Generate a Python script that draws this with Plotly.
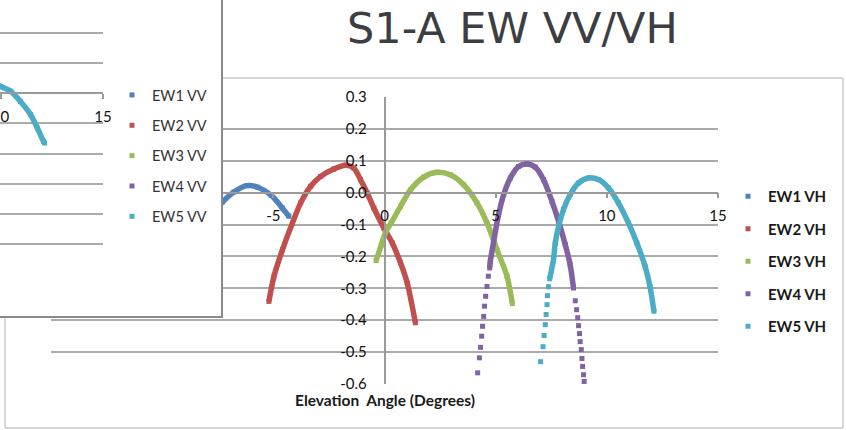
import plotly.graph_objects as go

W, H = 846, 430

TITLE = "S1-A EW VV/VH"
X_TITLE = "Elevation  Angle (Degrees)"

VH_NAMES = ["EW1 VH", "EW2 VH", "EW3 VH", "EW4 VH", "EW5 VH"]
VV_NAMES = ["EW1 VV", "EW2 VV", "EW3 VV", "EW4 VV", "EW5 VV"]
COLORS = ["#4F81BD", "#C0504D", "#9BBB59", "#8064A2", "#4BACC6"]

X_TICKS = [-5, 0, 5, 10, 15]
X_TICK_LABELS = ["-5", "0", "5", "10", "15"]
Y_TICKS = [0.3, 0.2, 0.1, 0.0, -0.1, -0.2, -0.3, -0.4, -0.5, -0.6]
Y_TICK_LABELS = ["0.3", "0.2", "0.1", "0.0", "-0.1", "-0.2", "-0.3", "-0.4", "-0.5", "-0.6"]
VV_X_TICKS = [10, 15]
VV_X_TICK_LABELS = ["10", "15"]

# ---- VH chart (continuous part of each curve) ----
EW1_VH_X = [-7.5, -7.30, -6.77, -6.20, -5.70, -5.10, -4.60, -4.30]
EW1_VH_Y = [-0.045, -0.030, 0.002, 0.022, 0.017, -0.008, -0.048, -0.074]

EW2_VH_X = [-5.20, -4.97, -4.59, -4.14, -3.77, -3.32, -2.87, -2.28, -1.75, -1.38,
            -1.08, -0.78, -0.48, -0.03, 0.35, 0.72, 1.02, 1.39]
EW2_VH_Y = [-0.341, -0.262, -0.179, -0.095, -0.032, 0.020, 0.051, 0.074, 0.086, 0.077,
            0.041, -0.001, -0.048, -0.111, -0.158, -0.220, -0.283, -0.408]

EW3_VH_X = [-0.38, -0.15, 0.04, 0.30, 0.72, 1.17, 1.76, 2.37, 2.96, 3.56,
            4.16, 4.61, 5.06, 5.51, 5.75]
EW3_VH_Y = [-0.213, -0.165, -0.125, -0.095, -0.043, 0.009, 0.049, 0.064, 0.056, 0.025,
            -0.032, -0.095, -0.179, -0.262, -0.348]

EW4_VH_X = [4.73, 4.76, 4.91, 5.13, 5.36, 5.66, 6.03, 6.41, 6.78, 7.15,
            7.53, 7.83, 8.13, 8.35, 8.50]
EW4_VH_Y = [-0.236, -0.215, -0.153, -0.069, -0.006, 0.046, 0.082, 0.090, 0.080, 0.041,
            -0.027, -0.090, -0.163, -0.226, -0.299]

EW5_VH_X = [7.43, 7.60, 7.68, 7.83, 8.05, 8.35, 8.72, 9.17, 9.62, 10.07,
            10.52, 10.97, 11.35, 11.72, 11.94, 12.12]
EW5_VH_Y = [-0.270, -0.210, -0.158, -0.106, -0.053, -0.006, 0.030, 0.046, 0.041, 0.015,
            -0.032, -0.095, -0.158, -0.231, -0.294, -0.372]

# ---- VH chart: sparse (separately visible) points at the curve tails ----
EW1_VH_TAIL_X, EW1_VH_TAIL_Y = [], []
EW2_VH_TAIL_X, EW2_VH_TAIL_Y = [], []
EW3_VH_TAIL_X, EW3_VH_TAIL_Y = [], []
EW4_VH_TAIL_X = [4.19, 4.27, 4.32, 4.37, 4.41, 4.46, 4.50, 4.55, 4.61, 4.67,
                 8.58, 8.64, 8.69, 8.73, 8.77, 8.80, 8.85, 8.88, 8.91, 8.95, 8.98]
EW4_VH_TAIL_Y = [-0.565, -0.518, -0.485, -0.450, -0.419, -0.388, -0.356, -0.325, -0.294, -0.262,
                 -0.339, -0.367, -0.392, -0.417, -0.442, -0.467, -0.492, -0.520, -0.545, -0.571, -0.592]
EW5_VH_TAIL_X = [7.02, 7.13, 7.18, 7.23, 7.27, 7.31, 7.33, 7.38]
EW5_VH_TAIL_Y = [-0.530, -0.483, -0.448, -0.414, -0.382, -0.351, -0.323, -0.295]

# ---- VV chart (only EW5 VV visible in the cropped inset) ----
EW1_VV_X, EW1_VV_Y = [], []
EW2_VV_X, EW2_VV_Y = [], []
EW3_VV_X, EW3_VV_Y = [], []
EW4_VV_X, EW4_VV_Y = [], []
EW5_VV_X = [9.80, 10.00, 10.49, 10.97, 11.46, 11.80, 12.09, 12.15]
EW5_VV_Y = [0.030, 0.023, 0.007, -0.027, -0.070, -0.116, -0.159, -0.165]

VH_SOLID = [(EW1_VH_X, EW1_VH_Y), (EW2_VH_X, EW2_VH_Y), (EW3_VH_X, EW3_VH_Y),
            (EW4_VH_X, EW4_VH_Y), (EW5_VH_X, EW5_VH_Y)]
VH_TAILS = [(EW1_VH_TAIL_X, EW1_VH_TAIL_Y), (EW2_VH_TAIL_X, EW2_VH_TAIL_Y),
            (EW3_VH_TAIL_X, EW3_VH_TAIL_Y), (EW4_VH_TAIL_X, EW4_VH_TAIL_Y),
            (EW5_VH_TAIL_X, EW5_VH_TAIL_Y)]
VV_DATA = [(EW1_VV_X, EW1_VV_Y), (EW2_VV_X, EW2_VV_Y), (EW3_VV_X, EW3_VV_Y),
           (EW4_VV_X, EW4_VV_Y), (EW5_VV_X, EW5_VV_Y)]


def fx(p):
    return p / W


def fy(p):
    return 1 - p / H


GRID = "#ababab"
AXIS = "#9a9a9a"
TICK_FONT = dict(family="Lato, Carlito, sans-serif", size=15, color="#111111")
LINE_W = 5.5
MARK_S = 5

fig = go.Figure()


def add_series(x, y, tx, ty, color, name, group, legend, xa, ya):
    fig.add_trace(go.Scatter(
        x=x, y=y, mode="lines",
        line=dict(color=color, width=LINE_W, shape="spline", smoothing=0.8),
        legendgroup=group, showlegend=False, hoverinfo="skip", xaxis=xa, yaxis=ya))
    mx = list(x) + list(tx)
    my = list(y) + list(ty)
    if not mx:
        mx, my = [None], [None]
    fig.add_trace(go.Scatter(
        x=mx, y=my, mode="markers",
        marker=dict(color=color, size=MARK_S, symbol="square", line=dict(width=0)),
        name=name, legendgroup=group, legend=legend, hoverinfo="skip", xaxis=xa, yaxis=ya))


# VH traces (main subplot xy)
for i in range(5):
    sx, sy = VH_SOLID[i]
    tx, ty = VH_TAILS[i]
    add_series(sx, sy, tx, ty, COLORS[i], VH_NAMES[i], "vh%d" % i, "legend", "x", "y")

# occluding white box of the VV chart (subplot x2y2)
fig.add_trace(go.Scatter(x=[None], y=[None], mode="markers", showlegend=False,
                         hoverinfo="skip", xaxis="x2", yaxis="y2"))

# VV traces (subplot x3y3)
for i in range(5):
    vx, vy = VV_DATA[i]
    add_series(vx, vy, [], [], COLORS[i], VV_NAMES[i], "vv%d" % i, "legend2", "x3", "y3")

x_left, x_right = 51, 718
y_top, y_bot = 97, 384
zero_px = x_left + (0 - (-15)) / 30 * (x_right - x_left)
zero_py = y_top + 0.3 / 0.9 * (y_bot - y_top)

vv_left, vv_right = 0, 103
vv_top, vv_bot = 3, 274
vv_zero_py = vv_top + 0.3 / 0.9 * (vv_bot - vv_top)

fig.update_layout(
    width=W, height=H,
    margin=dict(l=0, r=0, t=0, b=0, pad=0, autoexpand=False),
    paper_bgcolor="white", plot_bgcolor="white",
    showlegend=True,
    xaxis=dict(domain=[fx(x_left), fx(x_right)], range=[-15, 15], anchor="free",
               position=fy(zero_py), showgrid=False, zeroline=False,
               showline=True, linecolor=AXIS, linewidth=1.5,
               ticks="outside", ticklen=5, tickwidth=1.5, tickcolor=AXIS,
               tickvals=X_TICKS, ticktext=X_TICK_LABELS, tickfont=TICK_FONT,
               ticklabelstandoff=5, fixedrange=True, automargin=False),
    yaxis=dict(domain=[fy(y_bot), fy(y_top)], range=[-0.6, 0.3], anchor="free",
               position=fx(zero_px), showgrid=True, gridcolor=GRID, gridwidth=1.5,
               zeroline=False, showline=True, linecolor=AXIS, linewidth=1.5,
               ticks="", tickvals=Y_TICKS, ticktext=Y_TICK_LABELS, tickfont=TICK_FONT,
               ticklabelstandoff=14, fixedrange=True, automargin=False),
    xaxis2=dict(domain=[0, fx(221)], range=[0, 1], anchor="y2", side="bottom",
                showgrid=False, zeroline=False, showticklabels=False, ticks="",
                showline=True, linecolor="#8a8a8a", linewidth=1.5, mirror=False,
                automargin=False, fixedrange=True),
    yaxis2=dict(domain=[fy(316), 1], range=[0, 1], anchor="x2", side="right",
                showgrid=False, zeroline=False, showticklabels=False, ticks="",
                showline=True, linecolor="#8a8a8a", linewidth=1.5, mirror=False,
                automargin=False, fixedrange=True),
    xaxis3=dict(domain=[fx(vv_left), fx(vv_right)], range=[9.97, 15], anchor="free",
                position=fy(vv_zero_py), showgrid=False, zeroline=False,
                showline=True, linecolor=AXIS, linewidth=1.5,
                ticks="outside", ticklen=5, tickwidth=1.5, tickcolor=AXIS,
                tickvals=VV_X_TICKS, ticktext=VV_X_TICK_LABELS, tickfont=TICK_FONT,
                ticklabelstandoff=5, ticklabeloverflow="allow", automargin=False,
                fixedrange=True),
    yaxis3=dict(domain=[fy(vv_bot), fy(vv_top)], range=[-0.6, 0.3], anchor="x3",
                showgrid=True, gridcolor=GRID, gridwidth=1.5, zeroline=False,
                showline=False, showticklabels=False, ticks="", tickvals=Y_TICKS,
                automargin=False, fixedrange=True),
    legend=dict(x=fx(728), y=fy(180), xanchor="left", yanchor="top",
                bgcolor="rgba(0,0,0,0)", borderwidth=0, tracegroupgap=10,
                font=dict(family="Lato, sans-serif", size=15, color="#1a1a1a", weight="bold"),
                itemclick=False, itemdoubleclick=False),
    legend2=dict(x=fx(112), y=fy(79), xanchor="left", yanchor="top",
                 bgcolor="rgba(0,0,0,0)", borderwidth=0, tracegroupgap=8.5,
                 font=dict(family="Lato, sans-serif", size=14.5, color="#333333"),
                 itemclick=False, itemdoubleclick=False),
    shapes=[dict(type="rect", xref="paper", yref="paper", layer="below",
                 x0=fx(5), x1=fx(843), y0=fy(428), y1=fy(78),
                 line=dict(color="#b0b0b0", width=1), fillcolor="rgba(0,0,0,0)")],
    annotations=[
        dict(text=TITLE, xref="paper", yref="paper", x=fx(512), y=fy(28),
             xanchor="center", yanchor="middle", showarrow=False,
             font=dict(family="DejaVu Sans, Verdana, sans-serif", size=43, color="#3d3e42")),
        dict(text="<b>" + X_TITLE + "</b>", xref="paper", yref="paper", x=fx(zero_px), y=fy(400),
             xanchor="center", yanchor="middle", showarrow=False,
             font=dict(family="Lato, sans-serif", size=15.5, color="#1a1a1a")),
    ],
)

fig.write_html("out.html", config={"displayModeBar": False},
               post_script="document.body.style.margin='0px';")
